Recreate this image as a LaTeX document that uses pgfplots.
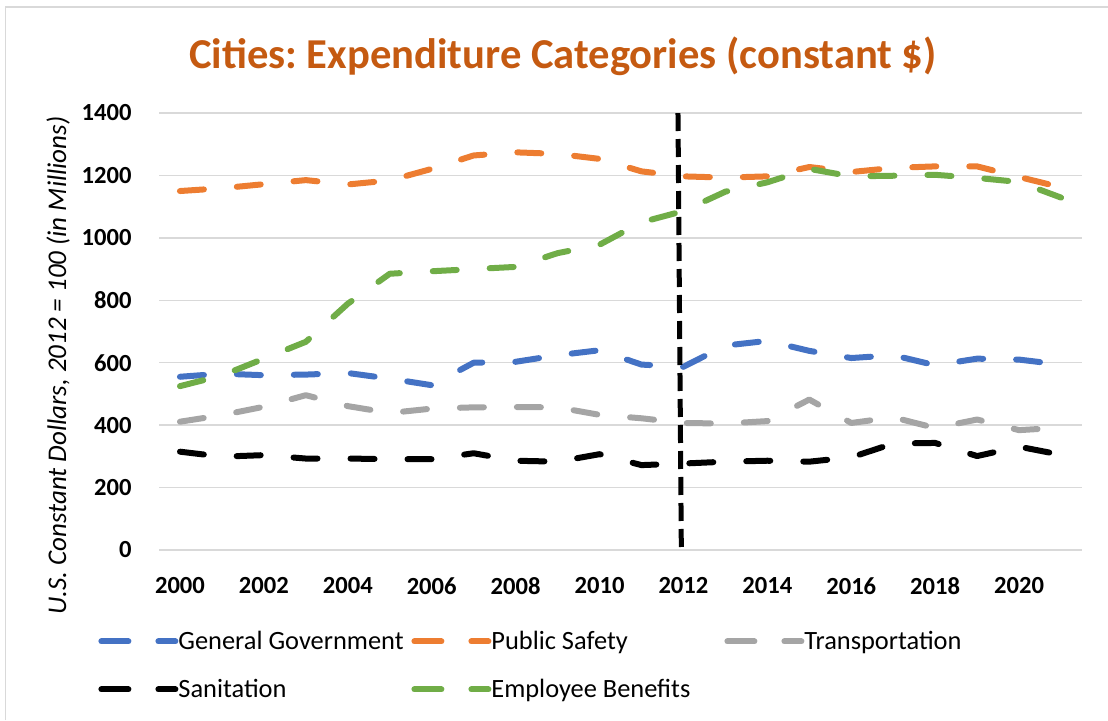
\documentclass[border=0pt]{standalone}
\usepackage{fontspec}
\setmainfont{Carlito}
\usepackage{pgfplots}
\pgfplotsset{compat=1.18}
\definecolor{ggblue}{HTML}{4472C4}
\definecolor{psorange}{HTML}{ED7D31}
\definecolor{trgray}{HTML}{A5A5A5}
\definecolor{ebgreen}{HTML}{70AD47}
\definecolor{titleorange}{RGB}{197,90,17}
\definecolor{gridgray}{HTML}{D9D9D9}
\tikzset{series/.style={line width=3pt, line cap=round, line join=round, dash pattern=on 12pt off 16.5pt}}
\frenchspacing
\begin{document}
\begin{tikzpicture}
\useasboundingbox (0,0) rectangle (554pt,360pt);
\draw[gridgray, line width=0.8pt] (2.75pt,0) -- (2.75pt,356.5pt) -- (554pt,356.5pt);
\begin{axis}[
 at={(79.5pt,85pt)}, anchor=south west,
 scale only axis, width=461.5pt, height=218.5pt,
 xmin=1999.5, xmax=2021.5, ymin=0, ymax=1400,
 xtick={2000,2002,...,2020}, ytick={0,200,...,1400},
 ymajorgrids, major grid style={gridgray, line width=0.75pt},
 axis line style={draw=none}, major tick style={draw=none},
 /pgf/number format/assume math mode=true,
 /pgf/number format/1000 sep={},
 ticklabel style={font=\fontsize{12.3}{14}\selectfont\bfseries, inner sep=0pt},
 yticklabel style={anchor=east, xshift=-13.5pt},
 xticklabel style={anchor=north, yshift=-13.5pt},
 legend columns=3,
 legend style={draw=none, fill=none, at={(axis description cs:0,0)}, anchor=north west, xshift=-30.5pt, yshift=-41.25pt, inner sep=0pt, row sep=15.5pt, column sep=0pt, nodes={inner sep=0pt, text height=8.5pt, text depth=0pt, font=\fontsize{13.2}{15}\selectfont}},
 legend cell align=left,
 legend image code/.code={\draw[#1, dash phase=0pt] (1.5pt,0pt) -- (35.5pt,0pt); \path (0pt,0pt) -- (37pt,0pt);},
]
\addplot[ggblue, series] coordinates {
(2000,555) (2001,565) (2002,560) (2003,562) (2004,567) (2005,549) (2006,528) (2007,600) (2008,603) (2009,624) (2010,640)
(2011,594) (2012,587) (2013,655) (2014,670) (2015,638) (2016,615) (2017,624) (2018,592) (2019,613) (2020,610) (2021,594)};
\addlegendentry{\makebox[116.5pt][l]{General Government}}
\addplot[psorange, series] coordinates {
(2000,1150) (2001,1159) (2002,1172) (2003,1185) (2004,1171) (2005,1184) (2006,1221) (2007,1264) (2008,1274) (2009,1269) (2010,1253)
(2011,1213) (2012,1197) (2013,1193) (2014,1197) (2015,1227) (2016,1211) (2017,1224) (2018,1229) (2019,1229) (2020,1195) (2021,1162)};
\addlegendentry{\makebox[116.5pt][l]{Public Safety}}
\addplot[trgray, series] coordinates {
(2000,411) (2001,432) (2002,459) (2003,496) (2004,461) (2005,439) (2006,453) (2007,457) (2008,458) (2009,457) (2010,433)
(2011,422) (2012,407) (2013,405) (2014,413) (2015,482) (2016,407) (2017,425) (2018,391) (2019,418) (2020,384) (2021,392)};
\addlegendentry{Transportation}
\addplot[black, series] coordinates {
(2000,315) (2001,299) (2002,304) (2003,293) (2004,293) (2005,291) (2006,291) (2007,310) (2008,286) (2009,283) (2010,307)
(2011,272) (2012,277) (2013,283) (2014,286) (2015,283) (2016,297) (2017,341) (2018,343) (2019,301) (2020,331) (2021,305)};
\addlegendentry{\makebox[116.5pt][l]{Sanitation}}
\addplot[ebgreen, series] coordinates {
(2000,525) (2001,559) (2002,613) (2003,667) (2004,789) (2005,885) (2006,893) (2007,900) (2008,907) (2009,951) (2010,978)
(2011,1050) (2012,1086) (2013,1148) (2014,1178) (2015,1221) (2016,1197) (2017,1199) (2018,1202) (2019,1192) (2020,1179) (2021,1129)};
\addlegendentry{\makebox[116.5pt][l]{Employee Benefits}}
\addplot[black, line width=2.5pt, dash pattern=on 9pt off 4pt, forget plot] coordinates {(2011.87,1400) (2011.95,0)};
\end{axis}
\node[anchor=base, font=\fontsize{21.3}{25}\selectfont\bfseries, text=titleorange] at (281.5pt,325.8pt) {Cities: Expenditure Categories (constant \$)};
\node[rotate=90, anchor=base, font=\fontsize{13.5}{15}\selectfont\itshape] at (33pt,177.25pt) {U.S. Constant Dollars, 2012 = 100 (in Millions)};
\end{tikzpicture}
\end{document}
